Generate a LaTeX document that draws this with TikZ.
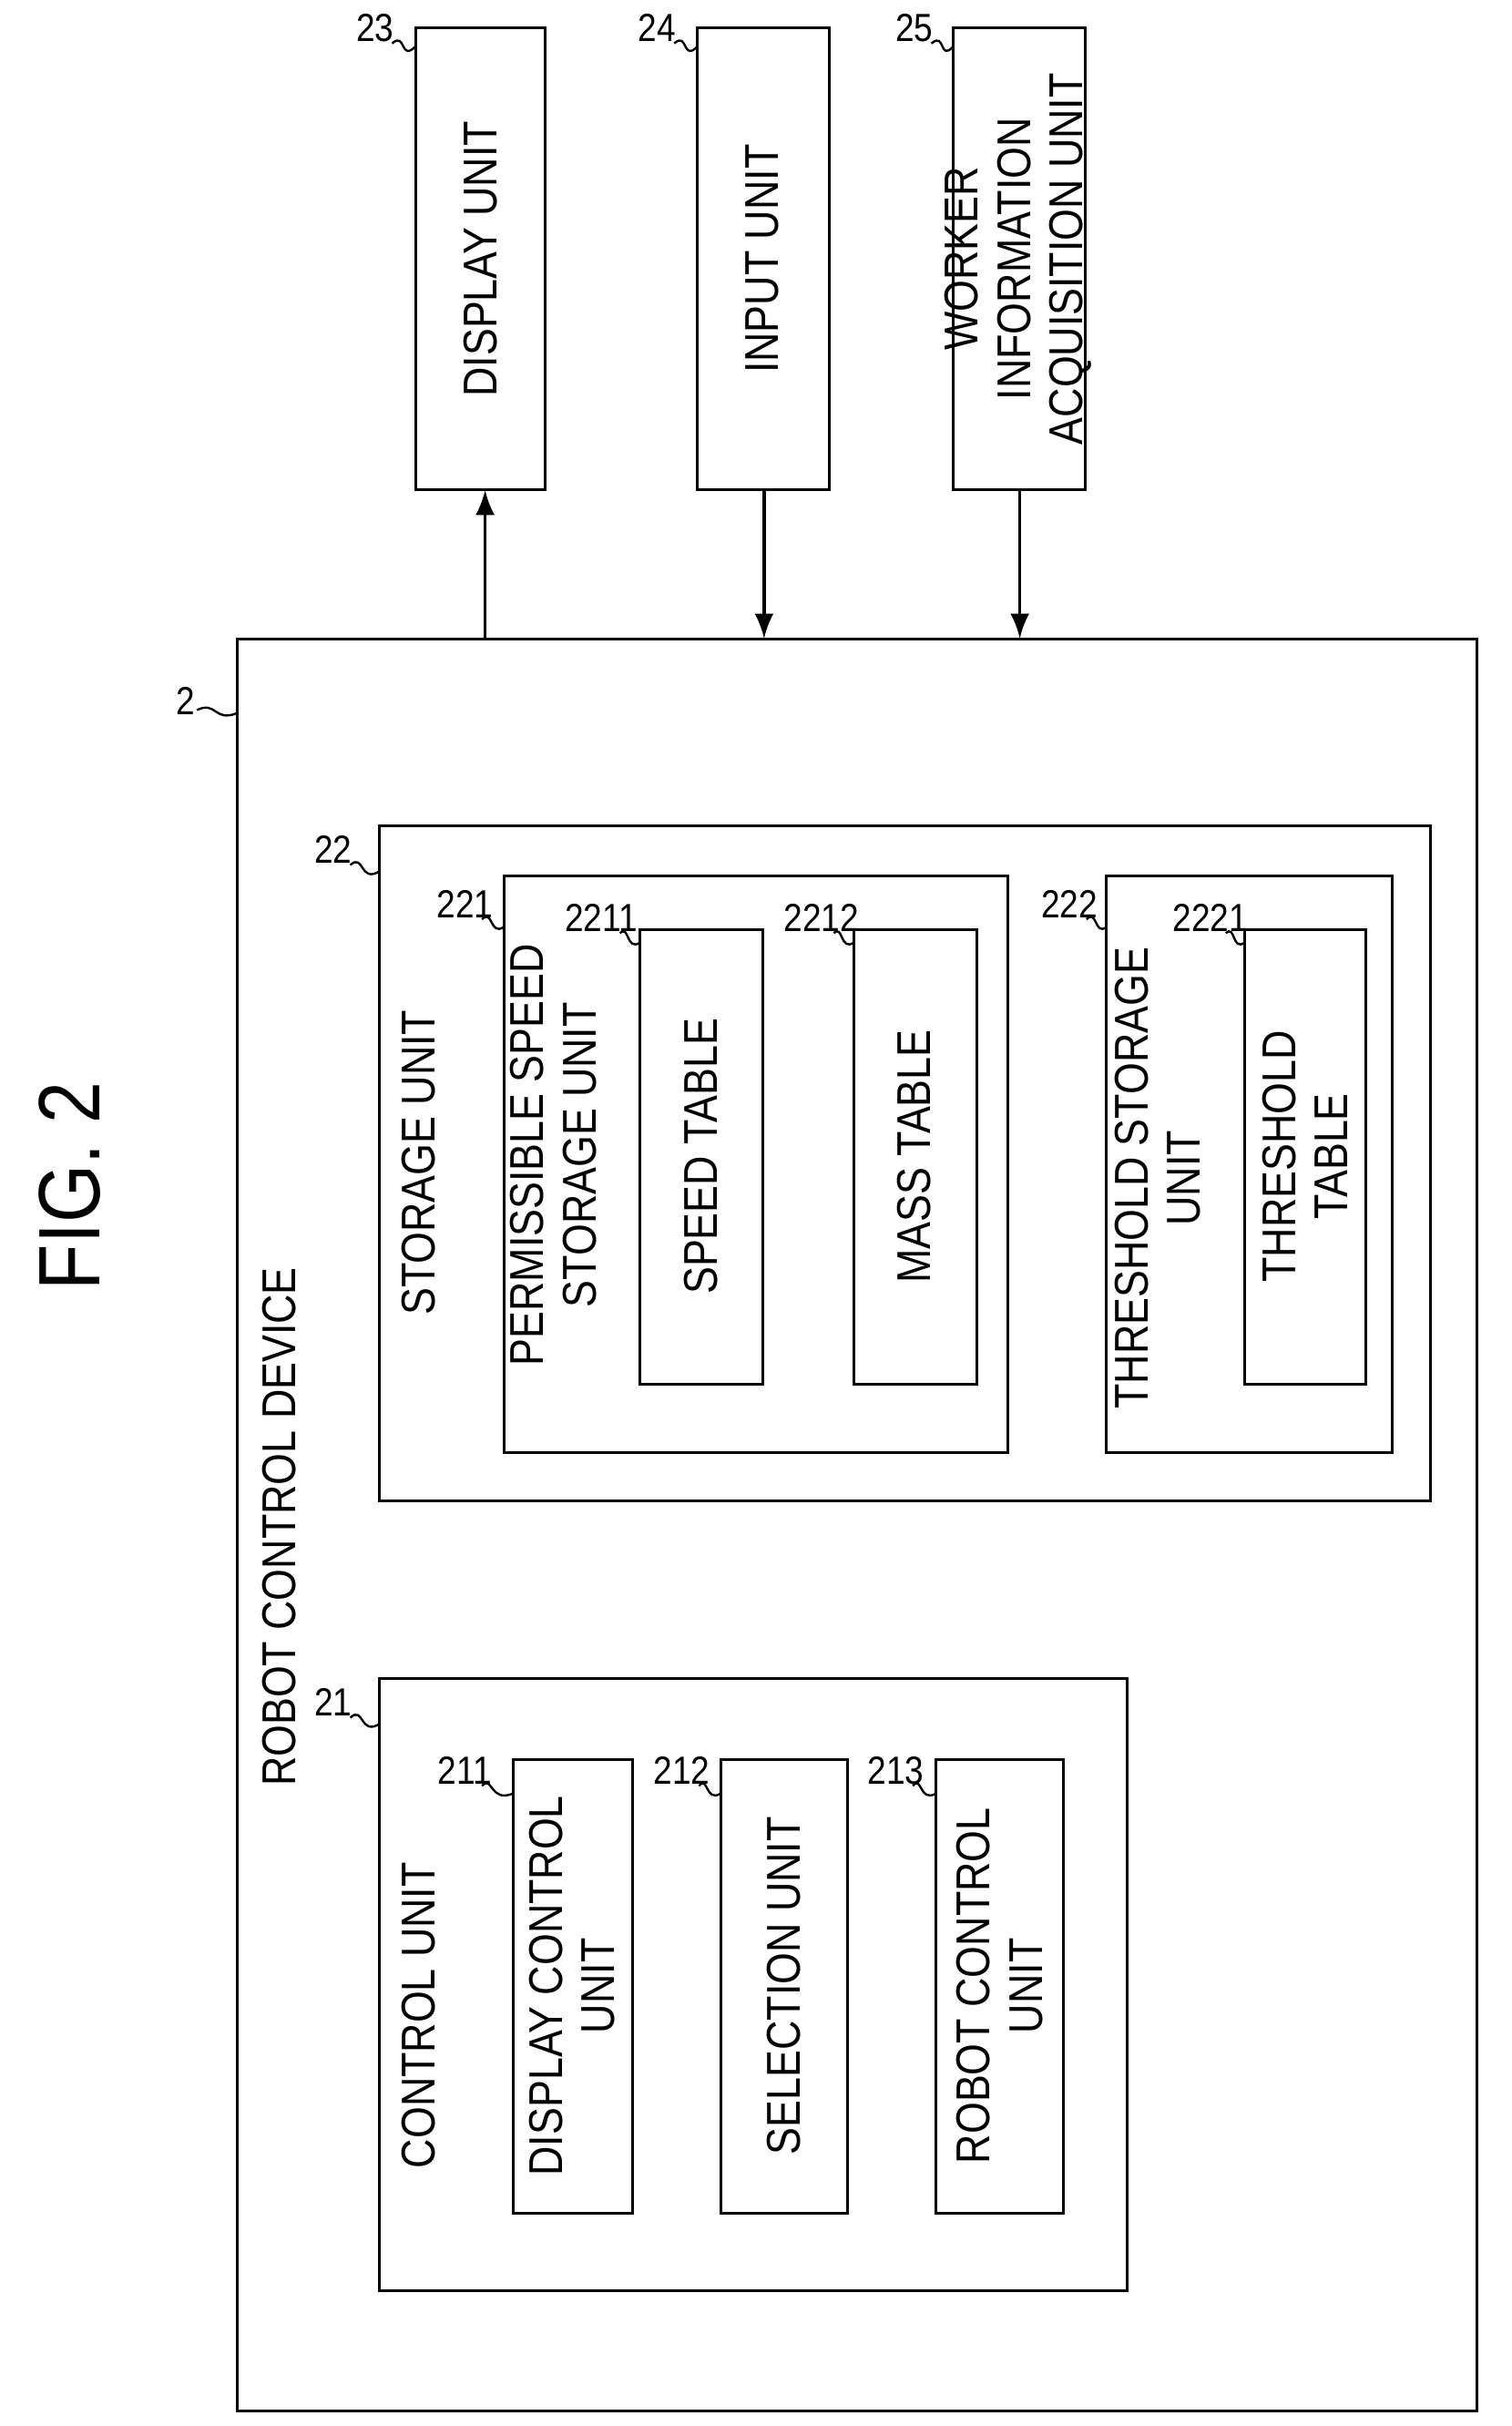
\documentclass[tikz,border=0pt]{standalone}
\usepackage{fontspec}
\setmainfont[FakeStretch=0.86]{Liberation Sans}
\begin{document}
\begin{tikzpicture}[x=0.01cm,y=-0.01cm,
  box/.style={draw,line width=0.5pt},
  txt/.style={rotate=90,font=\fontsize{8.7}{9.6}\selectfont,align=center,inner sep=0pt},
  num/.style={font=\fontsize{7.2}{8}\selectfont,inner sep=1pt},
  sq/.style={line width=0.4pt},
  arr/.style={-latex,line width=0.6pt}]
\useasboundingbox (0,0) rectangle (975,1565);
\node[rotate=90,font=\fontsize{16}{18}\selectfont] (fig) at (45,765) {FIG. 2};
% outer
\draw[box] (153,412) rectangle (953,1555);
\node[txt] (rcd) at (180,985) {ROBOT CONTROL DEVICE};
\node[num] (l2) at (120,452) {2};
\draw[sq] (127,458) .. controls (140,452) and (138,466) .. (153,460);
% top units
\draw[box] (268,18) rectangle (352,316); \node[txt] (du) at (310,167) {DISPLAY UNIT};
\draw[box] (450,18) rectangle (535,316); \node[txt] (iu) at (492,167) {INPUT UNIT};
\draw[box] (615,18) rectangle (700,316); \node[txt] (wu) at (657,167) {WORKER\\INFORMATION\\ACQUISITION UNIT};
\coordinate (duB) at (313,316); \coordinate (duA) at (313,412);
\coordinate (iuB) at (493,316); \coordinate (iuA) at (493,412);
\coordinate (wuB) at (658,316); \coordinate (wuA) at (658,412);
\draw[arr] (duA) -- (duB);
\draw[arr] (iuB) -- (iuA);
\draw[arr] (wuB) -- (wuA);
\node[num] (l23) at (242,18) {23}; \draw[sq] (253,28) .. controls (262,20) and (258,40) .. (268,30);
\node[num] (l24) at (424,18) {24}; \draw[sq] (435,28) .. controls (444,20) and (440,40) .. (450,30);
\node[num] (l25) at (590,18) {25}; \draw[sq] (601,28) .. controls (610,20) and (606,40) .. (615,30);
% storage
\draw[box] (245,533) rectangle (923,968);
\node[txt] (su) at (270,750) {STORAGE UNIT};
\node[num] (l22) at (215,548) {22}; \draw[sq] (226,558) .. controls (235,550) and (232,570) .. (245,562);
\draw[box] (325,565) rectangle (650,937);
\node[txt] (ps) at (357,745) {PERMISSIBLE SPEED\\STORAGE UNIT};
\node[num] (l221) at (300,583) {221}; \draw[sq] (311,593) .. controls (318,586) and (316,604) .. (325,598);
\draw[box] (413,600) rectangle (492,893); \node[txt] (st) at (452,746) {SPEED TABLE};
\node[num] (l2211) at (388,592) {2211}; \draw[sq] (400,602) .. controls (406,596) and (404,614) .. (413,608);
\draw[box] (551,600) rectangle (630,893); \node[txt] (mt) at (590,746) {MASS TABLE};
\node[num] (l2212) at (530,592) {2212}; \draw[sq] (538,602) .. controls (544,596) and (542,614) .. (551,608);
\draw[box] (714,565) rectangle (898,937);
\node[txt] (ts) at (747,760) {THRESHOLD STORAGE\\UNIT};
\node[num] (l222) at (690,583) {222}; \draw[sq] (701,593) .. controls (708,586) and (706,604) .. (714,598);
\draw[box] (803,600) rectangle (881,893); \node[txt] (tt) at (842,746) {THRESHOLD\\TABLE};
\node[num] (l2221) at (781,592) {2221}; \draw[sq] (791,602) .. controls (797,596) and (795,614) .. (803,608);
% control
\draw[box] (245,1083) rectangle (727,1478);
\node[txt] (cu) at (270,1300) {CONTROL UNIT};
\node[num] (l21) at (215,1098) {21}; \draw[sq] (226,1108) .. controls (235,1100) and (232,1120) .. (245,1112);
\draw[box] (331,1135) rectangle (408,1428); \node[txt] (dc) at (369,1281) {DISPLAY CONTROL\\UNIT};
\node[num] (l211) at (300,1142) {211}; \draw[sq] (311,1152) .. controls (318,1145) and (316,1163) .. (331,1157);
\draw[box] (465,1135) rectangle (547,1428); \node[txt] (sel) at (506,1281) {SELECTION UNIT};
\node[num] (l212) at (440,1142) {212}; \draw[sq] (451,1152) .. controls (457,1145) and (455,1163) .. (465,1157);
\draw[box] (604,1135) rectangle (686,1428); \node[txt] (rc) at (645,1281) {ROBOT CONTROL\\UNIT};
\node[num] (l213) at (578,1142) {213}; \draw[sq] (589,1152) .. controls (595,1145) and (593,1163) .. (604,1157);
\end{tikzpicture}
\end{document}
